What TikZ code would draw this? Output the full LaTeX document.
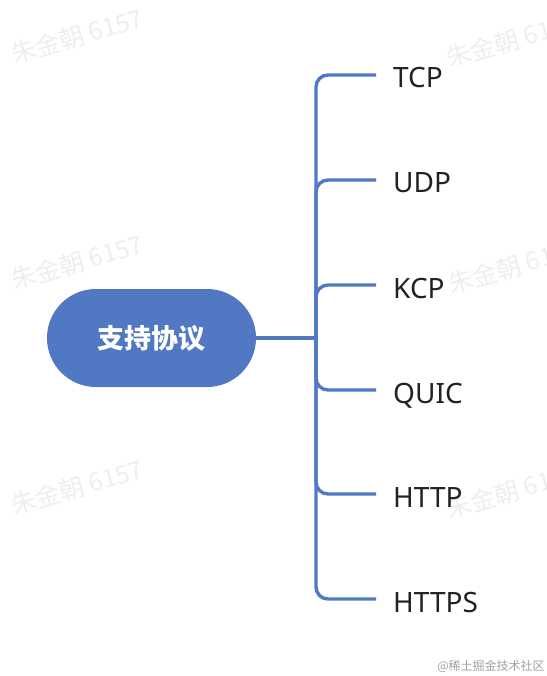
\documentclass[tikz,border=0pt]{standalone}
\usepackage{fontspec}
\newfontfamily\labfont{Noto Sans}
\newfontfamily\cjkfont{Noto Sans CJK SC}
\definecolor{mapblue}{HTML}{5179C3}
\definecolor{labtext}{HTML}{222222}
\definecolor{wmark}{HTML}{EEEEEE}
\definecolor{sitemark}{HTML}{A0A0A0}
\tikzset{
  rootbox/.style={fill=mapblue, draw=none, rounded corners=48.9pt,
    minimum width=209pt, minimum height=98pt, inner sep=0pt,
    text=white, font=\cjkfont\bfseries\fontsize{27}{30}\selectfont},
  branch/.style={draw=mapblue, line width=3.4pt, rounded corners=12pt},
  leaf/.style={anchor=base west, inner sep=0pt, text=labtext,
    font=\labfont\fontsize{28}{32}\selectfont},
  watermark/.style={text=wmark, rotate=16, inner sep=0pt,
    font=\cjkfont\fontsize{25}{28}\selectfont},
  site/.style={text=sitemark, inner sep=0pt,
    font=\cjkfont\fontsize{12}{14}\selectfont}
}
\begin{document}
\begin{tikzpicture}[x=1pt,y=-1pt]
\useasboundingbox (0,0) rectangle (546,676);
% watermarks
\node[watermark] (w1) at (77,36) {朱金朝 6157};
\node[watermark] (w2) at (77,262) {朱金朝 6157};
\node[watermark] (w3) at (77,487) {朱金朝 6157};
\node[watermark] (w4) at (512,40) {朱金朝 6157};
\node[watermark] (w5) at (514,266) {朱金朝 6157};
\node[watermark] (w6) at (512,491) {朱金朝 6157};
\node[site] (site) at (491,666) {@稀土掘金技术社区};
% root
\node[rootbox] (root) at (151.5,338) {支持协议};
\coordinate (j) at (316,338);
\foreach \name/\y/\txt in {tcp/75/TCP, udp/180/UDP, kcp/285/KCP, quic/390/QUIC, http/494/HTTP, https/599/HTTPS}{
  \coordinate (e\name) at (376,\y);
  \node[leaf] (\name) at (393,\y+13) {\txt};
  \draw[branch] (j) |- (e\name);
}
\draw[branch] (root.east) -- (j);
\end{tikzpicture}
\end{document}
